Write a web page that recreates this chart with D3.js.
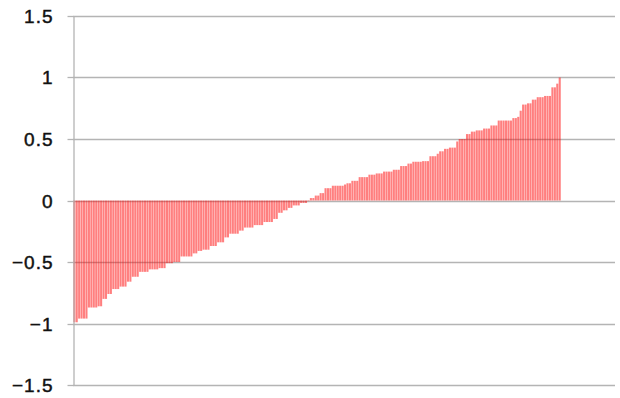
<!DOCTYPE html>
<html>
<head>
<meta charset="utf-8">
<script src="https://cdn.jsdelivr.net/npm/d3@7"></script>
<style>
  html, body { margin: 0; padding: 0; background: #fff; }
  svg { display: block; }
  .tick text { font-family: "Liberation Sans", Arial, sans-serif; font-size: 19px; letter-spacing: 1px; fill: #111; stroke: #111; stroke-width: 0.45px; }
</style>
</head>
<body>
<svg id="chart" width="620" height="398"></svg>
<script>
// Sorted coefficient values, one per bar, left to right
const values = [
  -0.99, -0.99, -0.96, -0.96, -0.96, -0.96, -0.87, -0.87, -0.87, -0.87,
  -0.86, -0.86, -0.80, -0.80, -0.76, -0.76, -0.72, -0.72, -0.72, -0.70,
  -0.70, -0.70, -0.66, -0.66, -0.62, -0.62, -0.62, -0.58, -0.58, -0.58,
  -0.58, -0.56, -0.56, -0.56, -0.56, -0.55, -0.55, -0.55, -0.51, -0.51,
  -0.51, -0.50, -0.50, -0.50, -0.455, -0.455, -0.455, -0.455, -0.455, -0.43,
  -0.43, -0.41, -0.41, -0.40, -0.40, -0.40, -0.37, -0.37, -0.37, -0.34,
  -0.34, -0.34, -0.30, -0.30, -0.27, -0.27, -0.27, -0.27, -0.245, -0.245,
  -0.22, -0.22, -0.22, -0.22, -0.20, -0.20, -0.20, -0.20, -0.175, -0.175,
  -0.175, -0.175, -0.15, -0.15, -0.10, -0.10, -0.08, -0.08, -0.06, -0.06,
  -0.04, -0.04, -0.04, -0.02, -0.02, -0.02, -0.005, 0.02, 0.02, 0.04,
  0.04, 0.06, 0.06, 0.10, 0.10, 0.10, 0.12, 0.12, 0.12, 0.12,
  0.12, 0.13, 0.14, 0.14, 0.16, 0.16, 0.16, 0.19, 0.19, 0.19,
  0.19, 0.21, 0.21, 0.21, 0.22, 0.22, 0.22, 0.235, 0.235, 0.235,
  0.235, 0.25, 0.25, 0.25, 0.28, 0.28, 0.28, 0.30, 0.30, 0.315,
  0.315, 0.315, 0.315, 0.32, 0.32, 0.32, 0.36, 0.36, 0.36, 0.38,
  0.40, 0.40, 0.42, 0.42, 0.43, 0.43, 0.43, 0.48, 0.50, 0.50,
  0.50, 0.54, 0.54, 0.56, 0.56, 0.57, 0.57, 0.57, 0.585, 0.585,
  0.585, 0.61, 0.61, 0.61, 0.65, 0.65, 0.65, 0.65, 0.65, 0.65,
  0.67, 0.67, 0.68, 0.73, 0.78, 0.78, 0.79, 0.79, 0.82, 0.82,
  0.84, 0.84, 0.84, 0.85, 0.85, 0.85, 0.92, 0.92, 0.95, 1.00
];
const categories = values.map((_, i) => i + 1);
const yTicks = [-1.5, -1, -0.5, 0, 0.5, 1, 1.5];
const yTickLabels = ["\u22121.5", "\u22121", "\u22120.5", "0", "0.5", "1", "1.5"];

const svg = d3.select("#chart");
const plotLeft = 73, plotRight = 615, plotTop = 16, plotBottom = 385;
const barsRight = 561;

const x = d3.scaleBand()
  .domain(categories)
  .range([plotLeft, barsRight])
  .paddingInner(0.15)
  .paddingOuter(0.1);

const y = d3.scaleLinear()
  .domain([-1.5, 1.5])
  .range([plotBottom, plotTop]);

// Horizontal gridlines
svg.append("g")
  .selectAll("line")
  .data(yTicks)
  .join("line")
  .attr("x1", plotLeft)
  .attr("x2", plotRight)
  .attr("y1", d => Math.round(y(d)) + 0.5)
  .attr("y2", d => Math.round(y(d)) + 0.5)
  .attr("stroke", "#b4b4b4")
  .attr("stroke-width", 1.3);

// Bars, translucent so gridlines show through
svg.append("g")
  .selectAll("rect")
  .data(values)
  .join("rect")
  .attr("x", (d, i) => x(categories[i]))
  .attr("width", x.bandwidth())
  .attr("y", d => y(Math.max(0, d)))
  .attr("height", d => Math.abs(y(d) - y(0)))
  .attr("fill", "#ff0000")
  .attr("fill-opacity", 0.5);

// Left axis with ticks pointing outward
const yAxis = d3.axisLeft(y)
  .tickValues(yTicks)
  .tickFormat((d, i) => yTickLabels[i])
  .tickSizeInner(6)
  .tickSizeOuter(0)
  .tickPadding(14);

const axisG = svg.append("g")
  .attr("transform", `translate(${plotLeft + 0.5},0)`)
  .call(yAxis);
axisG.select(".domain").attr("stroke", "#b4b4b4").attr("stroke-width", 1.3);
axisG.selectAll(".tick line")
  .attr("stroke", "#b4b4b4")
  .attr("stroke-width", 1.3);
axisG.selectAll(".tick").attr("transform", d => `translate(0,${Math.round(y(d)) + 0.5})`);
axisG.selectAll(".tick text").attr("dy", "0.36em");
</script>
</body>
</html>
